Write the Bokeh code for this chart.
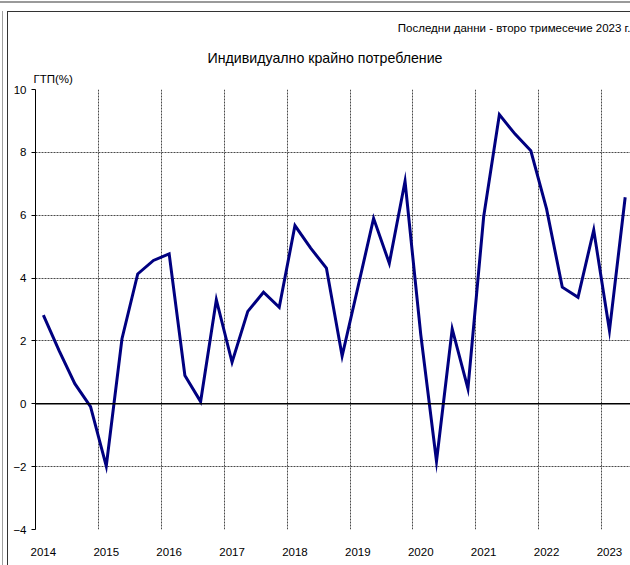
from bokeh.plotting import figure
from bokeh.models import Range1d, FixedTicker, Span, Title
from bokeh.embed import file_html
from bokeh.resources import INLINE

# ---- data ----
start_year = 2014
values = [2.82, 1.69, 0.64, -0.09,
          -1.98, 2.07, 4.13, 4.56,
          4.77, 0.90, 0.07, 3.31,
          1.32, 2.94, 3.55, 3.07,
          5.67, 4.95, 4.32, 1.52,
          3.70, 5.90, 4.47, 7.08,
          2.20, -1.83, 2.38, 0.48,
          5.95, 9.20, 8.58, 8.05,
          6.20, 3.71, 3.39, 5.53,
          2.33, 6.57]
year_labels = ["2014", "2015", "2016", "2017", "2018", "2019", "2020", "2021", "2022", "2023"]
y_ticks = [-4, -2, 0, 2, 4, 6, 8, 10]
title_text = "Индивидуално крайно потребление"
note_text = "Последни данни - второ тримесечие 2023 г."
unit_text = "ГТП(%)"

# quarterly midpoints
x = [start_year + (i + 0.5) / 4 for i in range(len(values))]
years = [int(s) for s in year_labels]

FONT = "Liberation Sans"

p = figure(width=630, height=565, output_backend="svg", toolbar_location=None, title=None,
           x_range=Range1d(2014, 2014 + 595 / 62.9), y_range=Range1d(-4, 10),
           min_border_left=35, min_border_right=0, min_border_top=89, min_border_bottom=36)
p.outline_line_color = None
p.background_fill_color = "white"
p.border_fill_color = None

# grids
p.xgrid.ticker = FixedTicker(ticks=years[1:])
p.xgrid.grid_line_color = "#4a4a4a"
p.xgrid.grid_line_dash = "2 1"
p.xgrid.grid_line_width = 1
p.ygrid.ticker = FixedTicker(ticks=y_ticks)
p.ygrid.grid_line_color = "#4a4a4a"
p.ygrid.grid_line_dash = "2 1"
p.ygrid.grid_line_width = 1

p.add_layout(Span(location=0, dimension="width", line_color="black", line_width=1.5))

# axes
p.yaxis.ticker = FixedTicker(ticks=y_ticks)
p.yaxis.axis_line_color = "black"
p.yaxis.major_tick_line_color = "black"
p.yaxis.major_tick_out = 4
p.yaxis.major_tick_in = 0
p.yaxis.minor_tick_line_color = None
p.yaxis.major_label_text_font = FONT
p.yaxis.major_label_text_font_size = "11.5px"
p.yaxis.major_label_text_color = "black"
p.yaxis.major_label_standoff = 5

p.xaxis.ticker = FixedTicker(ticks=[y + 0.125 for y in years])
p.xaxis.major_label_overrides = {y + 0.125: s for y, s in zip(years, year_labels)}
p.xaxis.axis_line_color = None
p.xaxis.major_tick_line_color = None
p.xaxis.minor_tick_line_color = None
p.xaxis.major_label_text_font = FONT
p.xaxis.major_label_text_font_size = "11.5px"
p.xaxis.major_label_text_color = "black"
p.xaxis.major_label_standoff = 12

# series
p.line(x, values, line_color="#000080", line_width=3, line_join="miter")

# texts above the frame (first added = nearest the frame)
p.add_layout(Title(text=unit_text, align="left", offset=-2, standoff=10, text_line_height=0.7,
                   text_font=FONT, text_font_size="11.5px", text_font_style="normal",
                   text_color="black"), "above")
p.add_layout(Title(text=title_text, align="left", offset=172, standoff=0,
                   text_font=FONT, text_font_size="14.2px", text_font_style="normal",
                   text_color="black"), "above")
p.add_layout(Title(text=note_text, align="right", offset=0, standoff=27,
                   text_font=FONT, text_font_size="11.5px", text_font_style="normal",
                   text_color="black"), "above")

# page frame lines drawn as host background
p.styles = {
    "background": ("linear-gradient(#9a9a9a,#9a9a9a) 0px 1px / 100% 2px no-repeat, "
                   "linear-gradient(#a0a0a0,#a0a0a0) 2px 11px / 1px 100% no-repeat, "
                   "linear-gradient(#333333,#333333) 7px 11px / 1px 100% no-repeat, "
                   "linear-gradient(#333333,#333333) 7px 11px / 100% 1px no-repeat, "
                   "white"),
}

open("out.html", "w").write(file_html(p, INLINE))
